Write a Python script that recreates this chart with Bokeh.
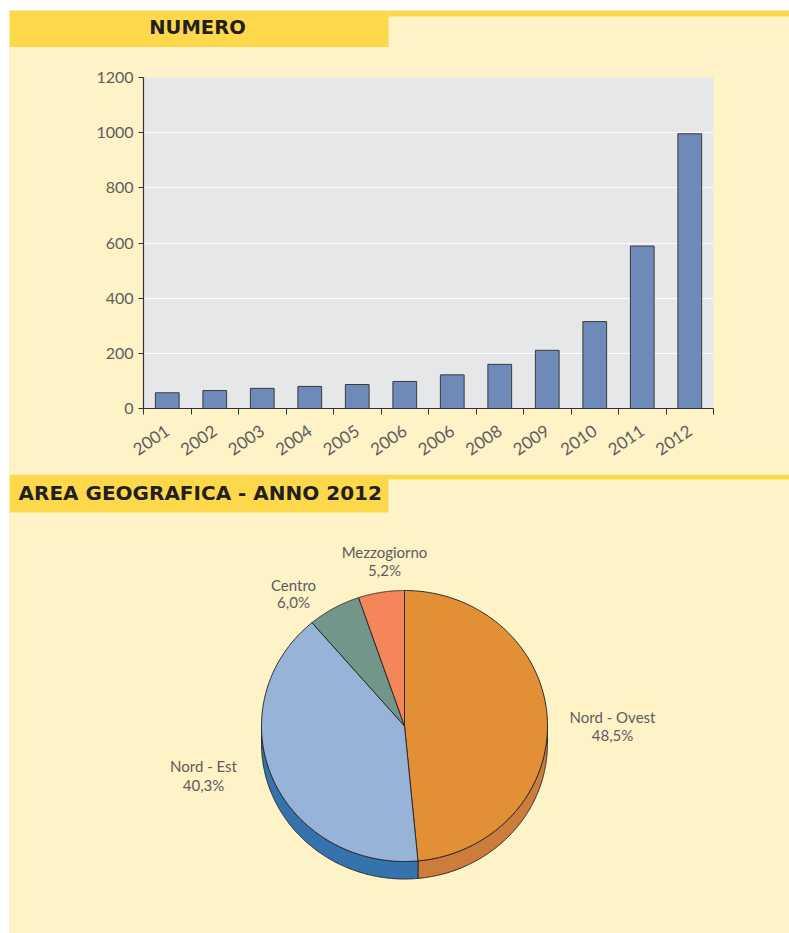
import numpy as np
from bokeh.plotting import figure
from bokeh.models import Range1d, FixedTicker, Spacer
from bokeh.layouts import column, row
from bokeh.core.properties import value
from bokeh.embed import file_html
from bokeh.resources import INLINE

# ---------------- data ----------------
years = ["2001", "2002", "2003", "2004", "2005", "2006", "2006", "2008", "2009", "2010", "2011", "2012"]
counts = [57, 65, 73, 80, 87, 98, 122, 160, 211, 315, 589, 996]
y_ticks = [0, 200, 400, 600, 800, 1000, 1200]

regions = ["Nord - Ovest", "Nord - Est", "Centro", "Mezzogiorno"]
shares = [48.5, 40.3, 6.0, 5.2]
share_labels = ["48,5%", "40,3%", "6,0%", "5,2%"]

title_top = "NUMERO"
title_bottom = "AREA GEOGRAFICA - ANNO 2012"

# ---------------- styles ----------------
CREAM = "#FEF2C7"
YELLOW = "#FDD84B"
TXT = "#5d5d5d"
FONT = "Lato"
HFONT = "DejaVu Sans"
top_colors = ["#E38F36", "#97B4D8", "#72978A", "#F4865A"]
side_colors = ["#CC7C3B", "#3473AD", "#5A7A6E", "#D86B45"]
label_pos = [(603, 242, 260), (194, 291, 310), (284, 110, 127), (375, 77, 95)]

W = 780

# ---------------- header 1 ----------------
h1 = figure(width=W, height=37, x_range=Range1d(0, W), y_range=Range1d(37, 0),
            output_backend="svg", toolbar_location=None, min_border=0, frame_align=False)
h1.axis.visible = False
h1.grid.visible = False
h1.outline_line_color = None
h1.background_fill_color = CREAM
h1.border_fill_color = CREAM
h1.quad(left=[0], right=[379], top=[0], bottom=[37], fill_color=YELLOW, line_color=None)
h1.quad(left=[379], right=[W], top=[0], bottom=[6], fill_color=YELLOW, line_color=None)
h1.text(x=[188], y=[17], text=[title_top], text_align="center", text_baseline="middle",
        text_font=value(HFONT), text_font_style="bold", text_font_size="19.5px", text_color="#231F20")

# ---------------- bar chart ----------------
idx = list(range(len(years)))
p1 = figure(width=W, height=427, x_range=Range1d(-0.5, len(years) - 0.5), y_range=Range1d(0, 1200),
            output_backend="svg", toolbar_location=None, frame_align=False,
            min_border_left=134, min_border_right=76, min_border_top=30, min_border_bottom=66)
p1.background_fill_color = "#E6E7E8"
p1.border_fill_color = CREAM
p1.outline_line_color = None
p1.xgrid.visible = False
p1.ygrid.grid_line_color = "white"
p1.ygrid.grid_line_width = 1
p1.vbar(x=idx, top=counts, width=0.5, bottom=0, fill_color="#6E8AB8", line_color="#3a3a3a", line_width=1)

p1.yaxis.ticker = FixedTicker(ticks=y_ticks)
p1.xaxis.ticker = FixedTicker(ticks=idx, minor_ticks=[i - 0.5 for i in range(len(years) + 1)])
p1.xaxis.major_label_overrides = {i: years[i] for i in idx}
for ax in (p1.xaxis[0], p1.yaxis[0]):
    ax.axis_line_color = "#333333"
    ax.axis_line_width = 1.2
    ax.major_label_text_font = FONT
    ax.major_label_text_font_size = "16px"
    ax.major_label_text_color = TXT
    ax.minor_tick_line_color = None
p1.xaxis.major_label_text_font_size = "17px"
p1.yaxis.major_tick_out = 5
p1.yaxis.major_tick_in = 0
p1.yaxis.major_tick_line_color = "#333333"
p1.yaxis.major_label_standoff = 5
p1.xaxis.major_tick_line_color = None
p1.xaxis[0].minor_tick_line_color = "#333333"
p1.xaxis.minor_tick_out = 6
p1.xaxis.minor_tick_in = 0
p1.xaxis.major_label_orientation = 0.6
p1.xaxis.major_label_standoff = 14

# ---------------- pie chart ----------------
H2 = 459
p2 = figure(width=W, height=H2, x_range=Range1d(0, W), y_range=Range1d(H2, 0),
            output_backend="svg", toolbar_location=None, min_border=0, frame_align=False)
p2.axis.visible = False
p2.grid.visible = False
p2.outline_line_color = None
p2.background_fill_color = CREAM
p2.border_fill_color = CREAM
p2.quad(left=[0], right=[379], top=[0], bottom=[38], fill_color=YELLOW, line_color=None)
p2.quad(left=[379], right=[W], top=[0], bottom=[5], fill_color=YELLOW, line_color=None)
p2.text(x=[9], y=[18], text=[title_bottom], text_align="left", text_baseline="middle",
        text_font=value(HFONT), text_font_style="bold", text_font_size="20px", text_color="#231F20")

cx, cy, rx, ry, depth = 395, 251.5, 143, 135.5, 17.5
fr = np.concatenate([[0], np.cumsum(shares)]) / sum(shares) * 2 * np.pi

side_xs, side_ys, side_c = [], [], []
top_xs, top_ys = [], []
for i in range(len(shares)):
    t0, t1 = fr[i], fr[i + 1]
    t = np.linspace(t0, t1, 200)
    top_xs.append([cx] + list(cx + rx * np.sin(t)))
    top_ys.append([cy] + list(cy - ry * np.cos(t)))
    a, b = max(t0, np.pi / 2), min(t1, 3 * np.pi / 2)
    if a < b:
        ts = np.linspace(a, b, 200)
        ax_ = cx + rx * np.sin(ts)
        ay_ = cy - ry * np.cos(ts)
        side_xs.append(list(ax_) + list(ax_[::-1]))
        side_ys.append(list(ay_) + list(ay_[::-1] + depth))
        side_c.append(side_colors[i])

p2.patches(xs=side_xs, ys=side_ys, fill_color=side_c, line_color="#2b2b2b", line_width=1)
p2.patches(xs=top_xs, ys=top_ys, fill_color=top_colors, line_color="#2b2b2b", line_width=1)

for i in range(len(regions)):
    lx, ly1, ly2 = label_pos[i]
    p2.text(x=[lx], y=[ly1], text=[regions[i]], text_align="center", text_baseline="middle",
            text_font=value(FONT), text_font_size="15px", text_color=TXT)
    p2.text(x=[lx], y=[ly2], text=[share_labels[i]], text_align="center", text_baseline="middle",
            text_font=value(FONT), text_font_size="15px", text_color=TXT)

inner = column(h1, p1, p2, spacing=0)
inner.styles = {"background-color": CREAM}
layout = column(Spacer(height=10), row(Spacer(width=9), inner, spacing=0), spacing=0)
layout.styles = {"background-color": "white"}

open("out.html", "w").write(file_html(layout, INLINE))
